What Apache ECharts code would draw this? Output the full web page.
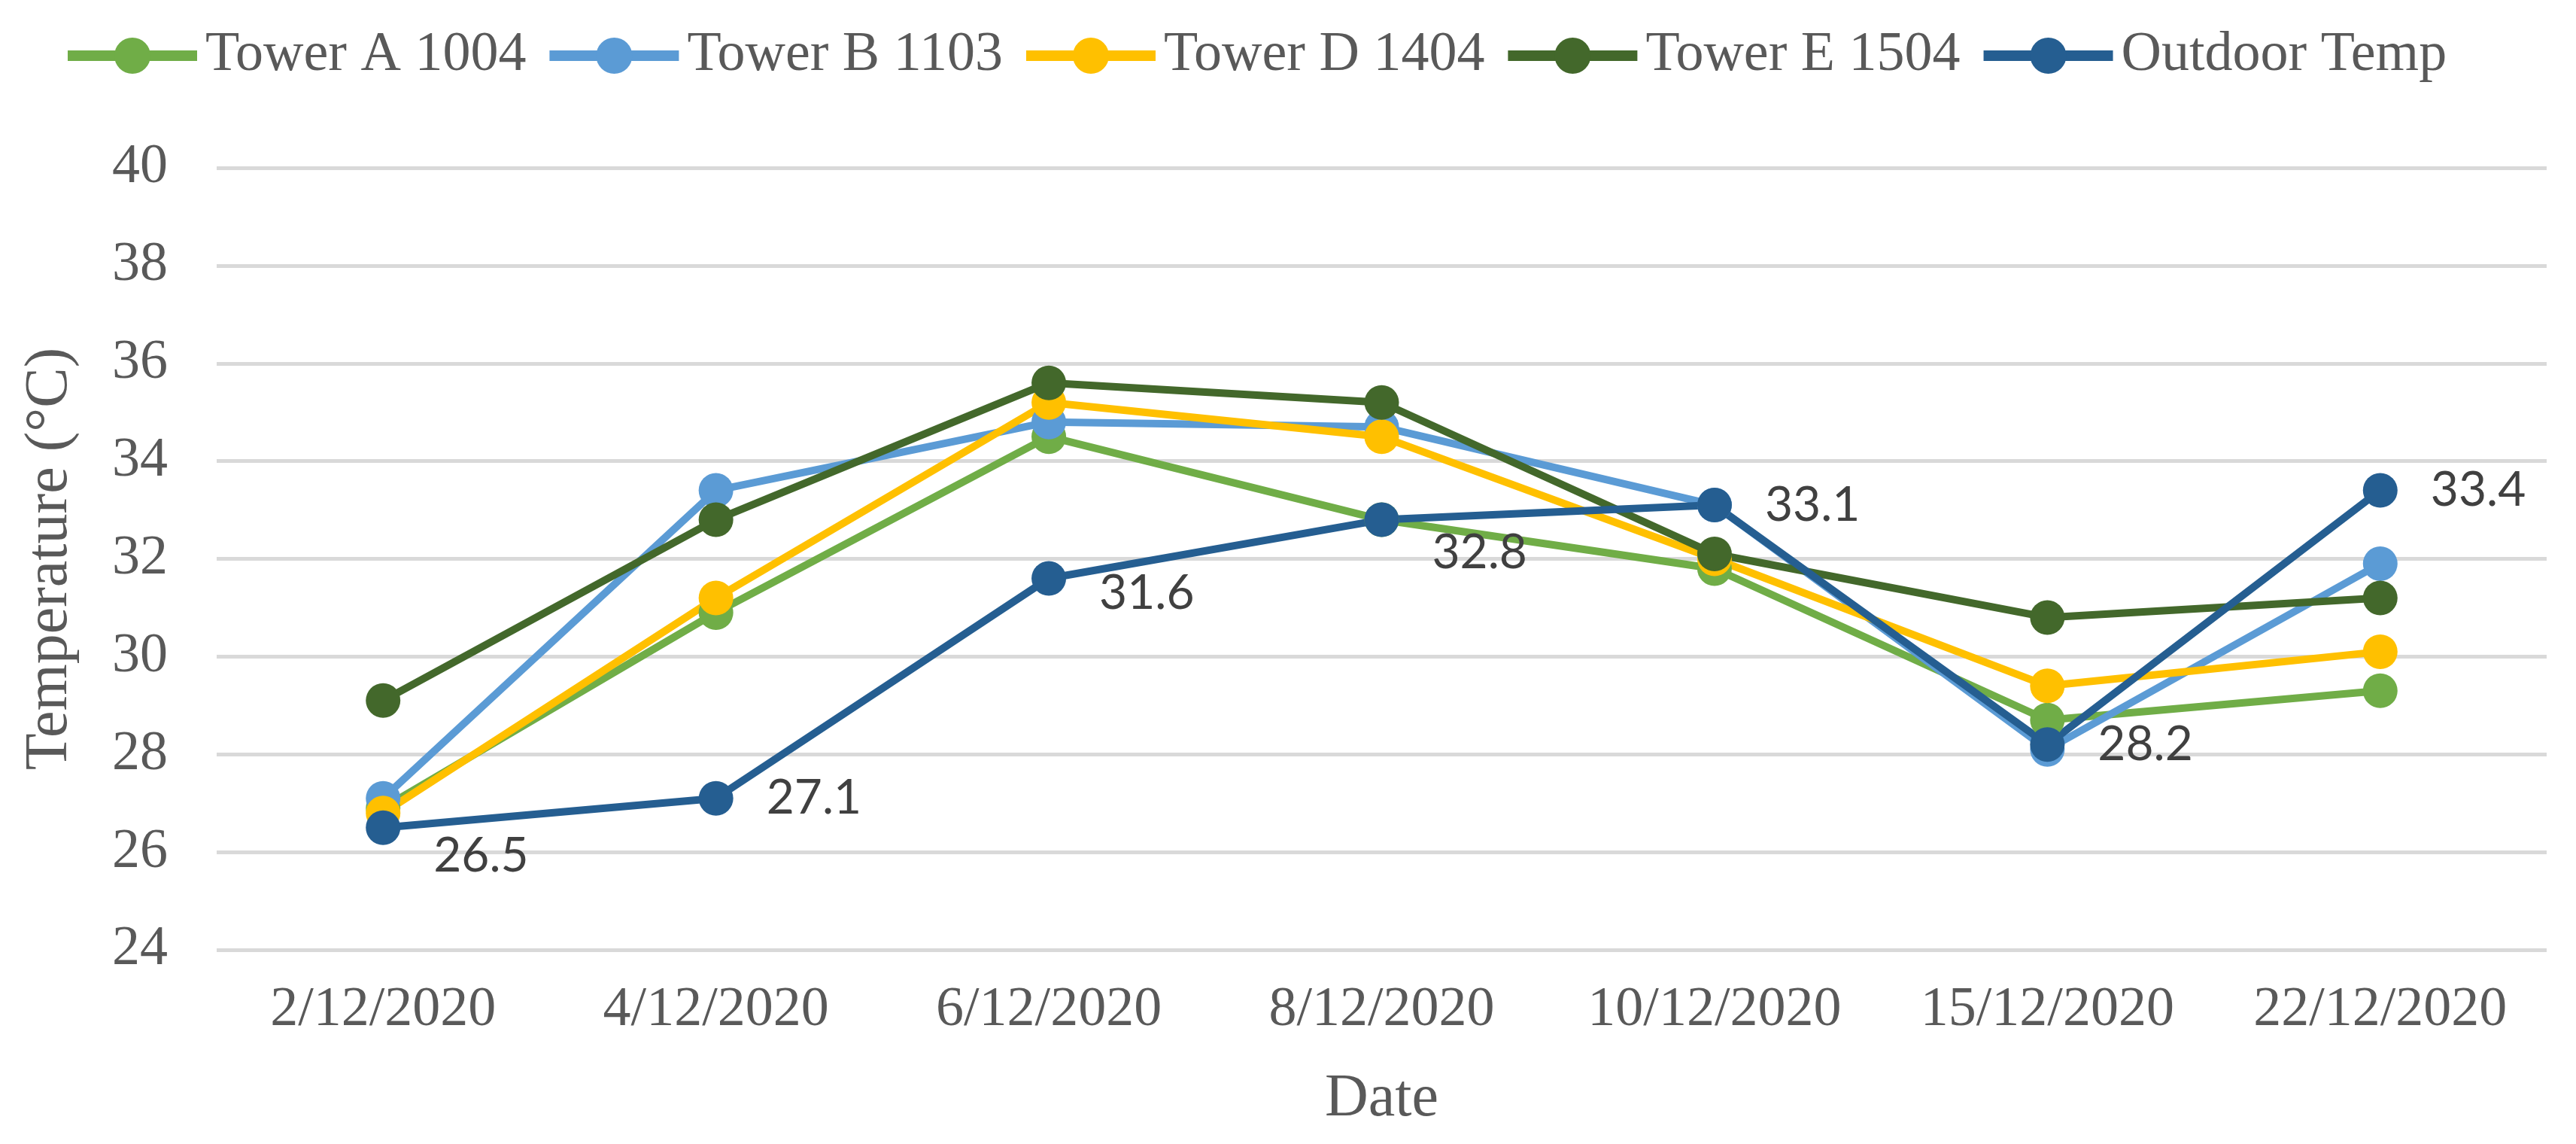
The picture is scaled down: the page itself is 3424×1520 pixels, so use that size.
<!DOCTYPE html>
<html>
<head>
<meta charset="utf-8">
<script src="https://cdn.jsdelivr.net/npm/echarts@6/dist/echarts.min.js"></script>
<style>
html,body{margin:0;padding:0;background:#fff;}
#chart{width:3424px;height:1520px;}
</style>
</head>
<body>
<div id="chart"></div>
<script>
const categories = ['2/12/2020','4/12/2020','6/12/2020','8/12/2020','10/12/2020','15/12/2020','22/12/2020'];
const seriesNames = ['Tower A 1004','Tower B 1103','Tower D 1404','Tower E 1504','Outdoor Temp'];
const towerA = [26.9, 30.9, 34.5, 32.8, 31.8, 28.7, 29.3];
const towerB = [27.1, 33.4, 34.8, 34.7, 33.1, 28.1, 31.9];
const towerD = [26.8, 31.2, 35.2, 34.5, 32.0, 29.4, 30.1];
const towerE = [29.1, 32.8, 35.6, 35.2, 32.1, 30.8, 31.2];
const outdoor = [26.5, 27.1, 31.6, 32.8, 33.1, 28.2, 33.4];
const yTicks = {min: 24, max: 40, interval: 2};

const colors = ['#70AD47','#5B9BD5','#FFC000','#43682B','#255E91'];
const labelDy = [38, 0, 20, 44, 0, 0, 0];

const chart = echarts.init(document.getElementById('chart'), null, {renderer:'canvas'});

function lineSeries(name, data, color, withLabels){
  const s = {
    name: name,
    type: 'line',
    data: withLabels ? data.map((v,i)=>({value:v, label:{offset:[0, labelDy[i]]}})) : data,
    symbol: 'circle',
    symbolSize: 46,
    lineStyle: {color: color, width: 10},
    itemStyle: {color: color},
    emphasis: {disabled: true},
    animation: false
  };
  if (withLabels) {
    s.label = {
      show: true,
      position: 'right',
      distance: 44,
      fontFamily: 'Lato',
      fontSize: 64,
      color: '#404040'
    };
  }
  return s;
}

const option = {
  backgroundColor: '#ffffff',
  animation: false,
  legend: {
    data: seriesNames,
    left: 78,
    top: 32,
    itemWidth: 172,
    itemHeight: 60,
    itemGap: 24,
    textStyle: {fontFamily: 'Liberation Serif', fontSize: 74, color: '#595959', padding:[0,0,0,6]},
    lineStyle: {width: 14}
  },
  grid: {left: 288, right: 39, top: 223, bottom: 258, containLabel: false},
  xAxis: {
    type: 'category',
    data: categories,
    boundaryGap: true,
    name: 'Date',
    nameLocation: 'middle',
    nameGap: 159,
    nameTextStyle: {fontFamily: 'Liberation Serif', fontSize: 80, color: '#595959'},
    axisLine: {show: false},
    axisTick: {show: false},
    axisLabel: {fontFamily: 'Liberation Serif', fontSize: 74, color: '#595959', margin: 44, interval: 0}
  },
  yAxis: {
    type: 'value',
    min: yTicks.min,
    max: yTicks.max,
    interval: yTicks.interval,
    name: 'Temperature (°C)',
    nameLocation: 'middle',
    nameGap: 181,
    nameRotate: 90,
    nameTextStyle: {fontFamily: 'Liberation Serif', fontSize: 80, color: '#595959'},
    axisLine: {show: false},
    axisTick: {show: false},
    axisLabel: {fontFamily: 'Liberation Serif', fontSize: 74, color: '#595959', margin: 65},
    splitLine: {lineStyle: {color: '#D9D9D9', width: 5}}
  },
  series: [
    lineSeries(seriesNames[0], towerA, colors[0], false),
    lineSeries(seriesNames[1], towerB, colors[1], false),
    lineSeries(seriesNames[2], towerD, colors[2], false),
    lineSeries(seriesNames[3], towerE, colors[3], false),
    lineSeries(seriesNames[4], outdoor, colors[4], true)
  ]
};
chart.setOption(option);
</script>
</body>
</html>
